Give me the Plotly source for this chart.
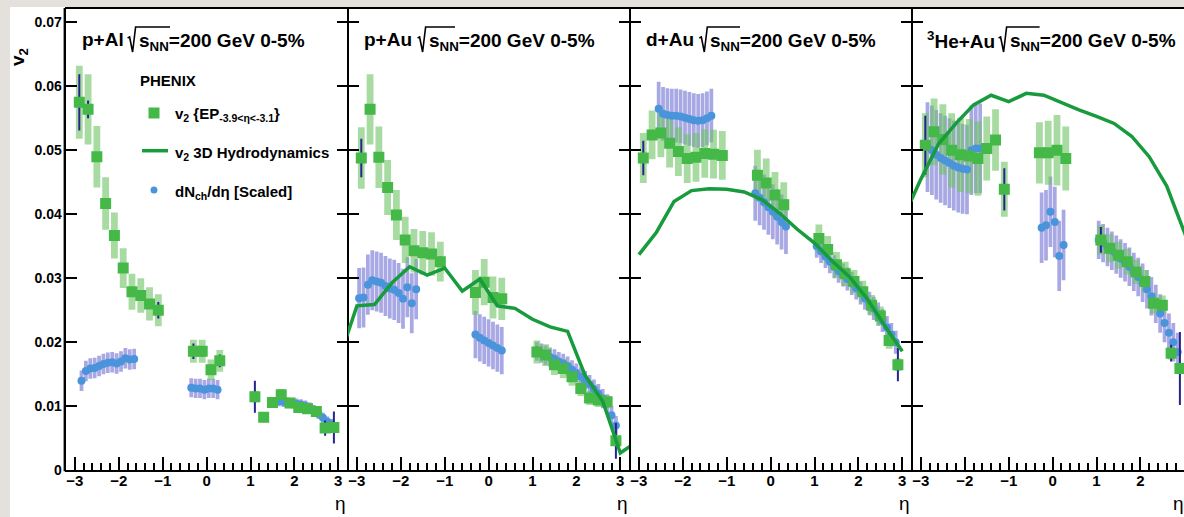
import plotly.graph_objects as go

# ---------------- data ----------------
EP_ETA = [-2.9, -2.7, -2.5, -2.3, -2.1, -1.9, -1.7, -1.5, -1.3, -1.1,
          -0.3, -0.1, 0.1, 0.3,
          1.1, 1.3, 1.5, 1.7, 1.9, 2.1, 2.3, 2.5, 2.7, 2.9]

P1_EP_V2 = [0.0575, 0.0564, 0.0490, 0.0417, 0.0367, 0.0316, 0.0279, 0.0273, 0.0260, 0.0250,
            0.0186, 0.0186, 0.0157, 0.0171,
            0.0115, 0.0083, 0.0106, 0.0118, 0.0105, 0.0098, 0.0096, 0.0092, 0.0066, 0.0067]
P1_EP_SYS = [0.0057, 0.0055, 0.0048, 0.0041, 0.0036, 0.0031, 0.0028, 0.0027, 0.0026, 0.0025,
             0.0018, 0.0018, 0.0016, 0.0017,
             0.0009, 0.0007, 0.0008, 0.0009, 0.0008, 0.0008, 0.0008, 0.0007, 0.0006, 0.0006]
P1_EP_STAT = [0.0044, 0.0014, 0.0006, 0.0005, 0.0005, 0.0005, 0.0005, 0.0005, 0.0006, 0.0013,
              0.0012, 0.0008, 0.0008, 0.0010,
              0.0025, 0.0008, 0.0005, 0.0005, 0.0005, 0.0005, 0.0005, 0.0006, 0.0012, 0.0025]

P2_EP_V2 = [0.0488, 0.0564, 0.0489, 0.0442, 0.0399, 0.0360, 0.0343, 0.0340, 0.0338, 0.0326,
            0.0278, 0.0294, 0.0270, 0.0268,
            0.0185, 0.0180, 0.0165, 0.0159, 0.0146, 0.0128, 0.0113, 0.0110, 0.0107, 0.0046]
P2_EP_SYS = [0.0048, 0.0055, 0.0048, 0.0043, 0.0039, 0.0036, 0.0034, 0.0034, 0.0034, 0.0031,
             0.0035, 0.0036, 0.0033, 0.0033,
             0.0018, 0.0017, 0.0016, 0.0015, 0.0014, 0.0012, 0.0011, 0.0011, 0.0010, 0.0006]
P2_EP_STAT = [0.0030, 0.0006, 0.0005, 0.0005, 0.0005, 0.0005, 0.0005, 0.0005, 0.0005, 0.0008,
              0.0005, 0.0005, 0.0005, 0.0005,
              0.0008, 0.0005, 0.0005, 0.0005, 0.0005, 0.0005, 0.0005, 0.0005, 0.0006, 0.0028]

P3_EP_V2 = [0.0488, 0.0524, 0.0527, 0.0511, 0.0498, 0.0487, 0.0489, 0.0495, 0.0494, 0.0492,
            0.0461, 0.0449, 0.0430, 0.0415,
            0.0362, 0.0345, 0.0321, 0.0307, 0.0295, 0.0279, 0.0258, 0.0241, 0.0203, 0.0165]
P3_EP_SYS = [0.0039, 0.0038, 0.0038, 0.0038, 0.0038, 0.0038, 0.0038, 0.0038, 0.0038, 0.0038,
             0.0040, 0.0038, 0.0036, 0.0035,
             0.0022, 0.0021, 0.0020, 0.0019, 0.0018, 0.0017, 0.0016, 0.0015, 0.0013, 0.0010]
P3_EP_STAT = [0.0027, 0.0006, 0.0005, 0.0005, 0.0005, 0.0005, 0.0005, 0.0005, 0.0005, 0.0008,
              0.0005, 0.0005, 0.0005, 0.0005,
              0.0008, 0.0005, 0.0005, 0.0005, 0.0005, 0.0005, 0.0005, 0.0005, 0.0006, 0.0026]

P4_EP_V2 = [0.0508, 0.0529, 0.0517, 0.0500, 0.0493, 0.0491, 0.0487, 0.0503, 0.0516, 0.0439,
            0.0496, 0.0496, 0.0500, 0.0487,
            0.0360, 0.0347, 0.0336, 0.0326, 0.0310, 0.0295, 0.0261, 0.0258, 0.0183, 0.0159]
P4_EP_SYS = [0.0050, 0.0052, 0.0055, 0.0058, 0.0058, 0.0058, 0.0058, 0.0050, 0.0048, 0.0043,
             0.0048, 0.0050, 0.0055, 0.0050,
             0.0023, 0.0022, 0.0021, 0.0020, 0.0019, 0.0018, 0.0016, 0.0015, 0.0010, 0.0008]
P4_EP_STAT = [0.0046, 0.0006, 0.0006, 0.0006, 0.0006, 0.0006, 0.0006, 0.0006, 0.0006, 0.0033,
              0.0006, 0.0006, 0.0006, 0.0006,
              0.0020, 0.0006, 0.0006, 0.0006, 0.0006, 0.0006, 0.0006, 0.0006, 0.0013, 0.0057]

# dN/deta (scaled): backward / mid / forward groups
P1_DN_ETA = [[-2.85, -2.75, -2.65, -2.55, -2.45, -2.35, -2.25, -2.15, -2.05, -1.95, -1.85, -1.75, -1.65],
             [-0.35, -0.25, -0.15, -0.05, 0.05, 0.15, 0.25],
             [1.65, 1.75, 1.85, 1.95, 2.05, 2.15, 2.25, 2.35, 2.45, 2.55, 2.65, 2.75, 2.85]]
P1_DN_V = [[0.0140, 0.0155, 0.0159, 0.0160, 0.0163, 0.0166, 0.0168, 0.0169, 0.0167, 0.0170, 0.0175, 0.0173, 0.0174],
           [0.0129, 0.0128, 0.0128, 0.0126, 0.0128, 0.0128, 0.0126],
           [0.0108, 0.0107, 0.0106, 0.0105, 0.0104, 0.0103, 0.0101, 0.0098, 0.0094, 0.0088, 0.0082, 0.0076, 0.0072]]
P1_DN_SYS = [0.0016, 0.0015, 0.0008]

P2_DN_ETA = [[-2.95, -2.85, -2.75, -2.65, -2.55, -2.45, -2.35, -2.25, -2.15, -2.05, -1.95, -1.85, -1.75, -1.65],
             [-0.3, -0.2, -0.1, 0.0, 0.1, 0.2, 0.3],
             [1.1, 1.2, 1.3, 1.4, 1.5, 1.6, 1.7, 1.8, 1.9, 2.0, 2.1, 2.2, 2.3, 2.4, 2.5, 2.6, 2.7, 2.8, 2.9]]
P2_DN_V = [[0.0269, 0.0270, 0.0290, 0.0297, 0.0295, 0.0293, 0.0288, 0.0284, 0.0282, 0.0277, 0.0268, 0.0286, 0.0261, 0.0283],
           [0.0212, 0.0207, 0.0203, 0.0199, 0.0195, 0.0191, 0.0187],
           [0.0186, 0.0183, 0.0180, 0.0177, 0.0174, 0.0170, 0.0167, 0.0163, 0.0157, 0.0152, 0.0146, 0.0140,
            0.0134, 0.0127, 0.0120, 0.0112, 0.0104, 0.0086, 0.0070]]
P2_DN_SYS = [0.0047, 0.0037, 0.0015]

P3_DN_ETA = [[-2.55, -2.45, -2.35, -2.25, -2.15, -2.05, -1.95, -1.85, -1.75, -1.65, -1.55, -1.45, -1.35],
             [-0.35, -0.25, -0.15, -0.05, 0.05, 0.15, 0.25, 0.35],
             [1.05, 1.15, 1.25, 1.35, 1.45, 1.55, 1.65, 1.75, 1.85, 1.95, 2.05, 2.15, 2.25, 2.35, 2.45, 2.55, 2.65, 2.75, 2.85]]
P3_DN_V = [[0.0565, 0.0557, 0.0555, 0.0554, 0.0554, 0.0553, 0.0551, 0.0549, 0.0547, 0.0546, 0.0547, 0.0550, 0.0554],
           [0.0433, 0.0426, 0.0419, 0.0411, 0.0404, 0.0396, 0.0388, 0.0381],
           [0.0350, 0.0342, 0.0334, 0.0326, 0.0318, 0.0311, 0.0305, 0.0299, 0.0292, 0.0285, 0.0277, 0.0269,
            0.0261, 0.0253, 0.0244, 0.0234, 0.0223, 0.0212, 0.0200]]
P3_DN_SYS = [0.0042, 0.0043, 0.0018]

P4_DN_ETA = [[-2.85, -2.75, -2.65, -2.55, -2.45, -2.35, -2.25, -2.15, -2.05, -1.95, -1.85, -1.75, -1.65],
             [-0.25, -0.15, -0.05, 0.05, 0.15, 0.25],
             [1.05, 1.15, 1.25, 1.35, 1.45, 1.55, 1.65, 1.75, 1.85, 1.95, 2.05, 2.15, 2.25, 2.35, 2.45, 2.55, 2.65, 2.75, 2.85]]
P4_DN_V = [[0.0505, 0.0500, 0.0493, 0.0488, 0.0484, 0.0480, 0.0476, 0.0473, 0.0471, 0.0470, 0.0500, 0.0503, 0.0503],
           [0.0379, 0.0383, 0.0404, 0.0388, 0.0335, 0.0352],
           [0.0360, 0.0355, 0.0349, 0.0343, 0.0337, 0.0331, 0.0325, 0.0318, 0.0310, 0.0302, 0.0293, 0.0283,
            0.0272, 0.0260, 0.0245, 0.0230, 0.0215, 0.0200, 0.0185]]
P4_DN_SYS = [0.0070, 0.0055, 0.0030]

# 3D hydrodynamics curves
HYDRO_ETA_WIDE = [-3.4, -3.0, -2.6, -2.2, -1.8, -1.4, -1.0, -0.6, -0.2, 0.2, 0.6, 1.0, 1.4, 1.8, 2.2, 2.6, 3.0, 3.4]
HYDRO_ETA_DAU = [-3.0, -2.6, -2.2, -1.8, -1.4, -1.0, -0.6, -0.2, 0.2, 0.6, 1.0, 1.4, 1.8, 2.2, 2.6, 3.0]
HYDRO_PAU = [0.0175, 0.0257, 0.0259, 0.0293, 0.0318, 0.0305, 0.0316, 0.0280, 0.0299, 0.0257, 0.0253, 0.0236,
             0.0224, 0.0217, 0.0148, 0.0108, 0.0027, 0.0046]
HYDRO_DAU = [0.0337, 0.0372, 0.0420, 0.0437, 0.0440, 0.0439, 0.0435, 0.0423, 0.0402, 0.0377, 0.0355,
             0.0327, 0.0302, 0.0268, 0.0226, 0.0186]
HYDRO_HEAU = [0.0395, 0.0455, 0.0510, 0.0542, 0.0571, 0.0586, 0.0576, 0.0589, 0.0586, 0.0574, 0.0563, 0.0553,
              0.0542, 0.0522, 0.0490, 0.0444, 0.0373, 0.0300]

SYSTEMS = ["p+Al", "p+Au", "d+Au", "<sup>3</sup>He+Au"]
TITLE_SUFFIX = "s<sub>NN</sub>=200 GeV 0-5%"
Y_TICKS = [0, 0.01, 0.02, 0.03, 0.04, 0.05, 0.06, 0.07]
Y_TICK_TEXT = ["0", "0.01", "0.02", "0.03", "0.04", "0.05", "0.06", "0.07"]

# ---------------- styling / layout ----------------
W, H = 1184, 517
FONT = "Liberation Sans, Arial, Helvetica, sans-serif"
GREEN_SQ = "#44b948"
GREEN_BOX = "rgba(110,195,100,0.6)"
BLUE_PT = "#4a94dc"
BLUE_BOX = "rgba(110,110,210,0.6)"
HYDRO_C = "#179b3c"
STAT_C = "#25258f"

PANEL_LEFT = [65.6, 347.6, 629.6, 911.6]
PANEL_W = 282.0
XHALF = 3.212
PX_PER_UNIT = PANEL_W / (2 * XHALF)
Y_BOT_PX, Y_TOP_PX = 470.3, 9.0
Y_MAX = (Y_BOT_PX - Y_TOP_PX) / 6400.0


def px(x):
    return x / W


def py(y):
    return 1 - y / H


fig = go.Figure()

ep_v2 = [P1_EP_V2, P2_EP_V2, P3_EP_V2, P4_EP_V2]
ep_sys = [P1_EP_SYS, P2_EP_SYS, P3_EP_SYS, P4_EP_SYS]
ep_stat = [P1_EP_STAT, P2_EP_STAT, P3_EP_STAT, P4_EP_STAT]
dn_eta = [P1_DN_ETA, P2_DN_ETA, P3_DN_ETA, P4_DN_ETA]
dn_v = [P1_DN_V, P2_DN_V, P3_DN_V, P4_DN_V]
dn_sys = [P1_DN_SYS, P2_DN_SYS, P3_DN_SYS, P4_DN_SYS]
hydro = [None, (HYDRO_ETA_WIDE, HYDRO_PAU), (HYDRO_ETA_DAU, HYDRO_DAU), (HYDRO_ETA_WIDE, HYDRO_HEAU)]

for i in range(4):
    xa = "x" if i == 0 else f"x{i+1}"
    ya = "y" if i == 0 else f"y{i+1}"
    for g in range(3):
        xs = dn_eta[i][g]
        vs = dn_v[i][g]
        s = dn_sys[i][g]
        fig.add_trace(go.Bar(x=xs, y=[2 * s] * len(vs), base=[v - s for v in vs], width=0.085,
                             marker=dict(color=BLUE_BOX, line=dict(width=0)),
                             xaxis=xa, yaxis=ya, showlegend=False, hoverinfo="skip"))
    fig.add_trace(go.Bar(x=EP_ETA, y=[2 * s for s in ep_sys[i]],
                         base=[v - s for v, s in zip(ep_v2[i], ep_sys[i])], width=0.155,
                         marker=dict(color=GREEN_BOX, line=dict(width=0)),
                         xaxis=xa, yaxis=ya, showlegend=False, hoverinfo="skip"))

for i in range(4):
    xa = "x" if i == 0 else f"x{i+1}"
    ya = "y" if i == 0 else f"y{i+1}"
    for g in range(3):
        fig.add_trace(go.Scatter(x=dn_eta[i][g], y=dn_v[i][g], mode="markers",
                                 marker=dict(symbol="circle", size=8, color=BLUE_PT),
                                 xaxis=xa, yaxis=ya, showlegend=False))
    fig.add_trace(go.Scatter(x=EP_ETA, y=ep_v2[i], mode="markers",
                             marker=dict(symbol="square", size=11, color=GREEN_SQ),
                             error_y=dict(type="data", array=ep_stat[i], visible=True,
                                          color=STAT_C, thickness=2, width=0),
                             xaxis=xa, yaxis=ya, showlegend=False))
    if hydro[i] is not None:
        fig.add_trace(go.Scatter(x=hydro[i][0], y=hydro[i][1], mode="lines",
                                 line=dict(color=HYDRO_C, width=3.5),
                                 xaxis=xa, yaxis=ya, showlegend=False))

xtickfont = dict(family=FONT, size=15, color="black", weight="bold")
ytickfont = dict(family=FONT, size=14, color="black", weight="bold")
layout = dict(
    width=W, height=H, margin=dict(l=0, r=0, t=0, b=0),
    paper_bgcolor="white", plot_bgcolor="white",
    barmode="overlay", showlegend=False,
)

shapes = []
annotations = []
for i in range(4):
    left = PANEL_LEFT[i]
    right = min(left + PANEL_W, W)
    xmax = -XHALF + (right - left) / PX_PER_UNIT
    xkey = "xaxis" if i == 0 else f"xaxis{i+1}"
    ykey = "yaxis" if i == 0 else f"yaxis{i+1}"
    layout[xkey] = dict(
        domain=[px(left), px(right)], range=[-XHALF, xmax],
        anchor="y" if i == 0 else f"y{i+1}",
        tickmode="linear", tick0=0, dtick=1,
        ticks="inside", ticklen=13, tickwidth=2, tickcolor="black",
        minor=dict(tickmode="linear", tick0=0, dtick=0.2, ticks="inside", ticklen=7,
                   tickwidth=1.5, tickcolor="black"),
        showline=True, linewidth=2, linecolor="black", mirror=True,
        showgrid=False, zeroline=False, tickfont=xtickfont, automargin=False,
        ticklabelstandoff=-4,
    )
    layout[ykey] = dict(
        domain=[py(Y_BOT_PX), py(Y_TOP_PX)], range=[0, Y_MAX],
        anchor="x" if i == 0 else f"x{i+1}",
        tickmode="array", tickvals=Y_TICKS, ticktext=Y_TICK_TEXT,
        ticks="inside", ticklen=11, tickwidth=2, tickcolor="black",
        showline=True, linewidth=1.1, linecolor="black",
        mirror="allticks" if i < 3 else False,
        showticklabels=(i == 0),
        showgrid=False, zeroline=False, tickfont=ytickfont, automargin=False,
    )

    # title: prefix, radical sign (drawn), suffix
    s_rel = [71.0, 79.0, 78.7, 96.0][i]
    ol_rel = [104.4, 107.4, 110.4, 128.0][i]
    pre_rel = [14.4, 14.4, 14.4, 13.0][i]
    annotations.append(dict(xref="paper", yref="paper", x=px(left + pre_rel), y=py(40),
                            xanchor="left", yanchor="middle", showarrow=False,
                            text=SYSTEMS[i],
                            font=dict(family=FONT, size=19, color="black", weight="bold")))
    annotations.append(dict(xref="paper", yref="paper", x=px(left + s_rel), y=py(42),
                            xanchor="left", yanchor="middle", showarrow=False,
                            text=TITLE_SUFFIX,
                            font=dict(family=FONT, size=19, color="black", weight="bold")))
    S = left + s_rel
    E = left + ol_rel
    pts = [(S - 9, 38), (S - 7, 37), (S - 4, 52), (S - 1, 27), (E, 27)]
    path = "M " + " L ".join(f"{px(a):.5f},{py(b):.5f}" for a, b in pts)
    shapes.append(dict(type="path", xref="paper", yref="paper", path=path,
                       line=dict(color="black", width=1.6)))
    annotations.append(dict(xref="paper", yref="paper", x=px(min(left + PANEL_W - 7, W - 6)),
                            y=py(503), xanchor="center", yanchor="middle", showarrow=False,
                            text="η", font=dict(family=FONT, size=19, color="black")))

# outer left frame line thickened to match the panel borders
shapes.append(dict(type="line", xref="paper", yref="paper", x0=px(PANEL_LEFT[0] - 1.0),
                   x1=px(PANEL_LEFT[0] - 1.0), y0=py(Y_BOT_PX + 1), y1=py(Y_TOP_PX - 1),
                   line=dict(color="black", width=2)))

annotations.append(dict(xref="paper", yref="paper", x=px(19), y=py(57), xanchor="center",
                        yanchor="middle", showarrow=False, text="v<sub>2</sub>", textangle=-90,
                        font=dict(family=FONT, size=19, color="black", weight="bold")))

leg_font = dict(family=FONT, size=15, color="black", weight="bold")
annotations.append(dict(xref="paper", yref="paper", x=px(138), y=py(80), xanchor="left",
                        yanchor="middle", showarrow=False, text="PHENIX", font=leg_font))
annotations.append(dict(xref="paper", yref="paper", x=px(173), y=py(115), xanchor="left",
                        yanchor="middle", showarrow=False,
                        text="v<sub>2</sub> {EP<sub>-3.9&lt;η&lt;-3.1</sub>}", font=leg_font))
annotations.append(dict(xref="paper", yref="paper", x=px(173), y=py(153), xanchor="left",
                        yanchor="middle", showarrow=False,
                        text="v<sub>2</sub> 3D Hydrodynamics", font=leg_font))
annotations.append(dict(xref="paper", yref="paper", x=px(173), y=py(192), xanchor="left",
                        yanchor="middle", showarrow=False,
                        text="dN<sub>ch</sub>/dη [Scaled]", font=leg_font))
shapes.append(dict(type="rect", xref="paper", yref="paper", x0=px(148.5), x1=px(159.5),
                   y0=py(118.5), y1=py(107.5), fillcolor=GREEN_SQ, line=dict(width=0)))
shapes.append(dict(type="line", xref="paper", yref="paper", x0=px(142), x1=px(168),
                   y0=py(150.7), y1=py(150.7), line=dict(color=HYDRO_C, width=3.5)))
shapes.append(dict(type="circle", xref="paper", yref="paper", x0=px(150.5), x1=px(157.5),
                   y0=py(193.5), y1=py(186.5), fillcolor=BLUE_PT, line=dict(width=0)))

shapes.append(dict(type="rect", xref="paper", yref="paper", x0=0, x1=px(10), y0=0, y1=1,
                   fillcolor="#e4e1dc", line=dict(width=0), layer="below"))
shapes.append(dict(type="rect", xref="paper", yref="paper", x0=0, x1=1, y0=py(7), y1=1,
                   fillcolor="#e4e1dc", line=dict(width=0), layer="below"))

layout["shapes"] = shapes
layout["annotations"] = annotations
fig.update_layout(**layout)
fig.write_html(
    "out.html",
    config={"displayModeBar": False},
    post_script="document.body.style.margin='0px';document.body.style.overflow='hidden';",
)
